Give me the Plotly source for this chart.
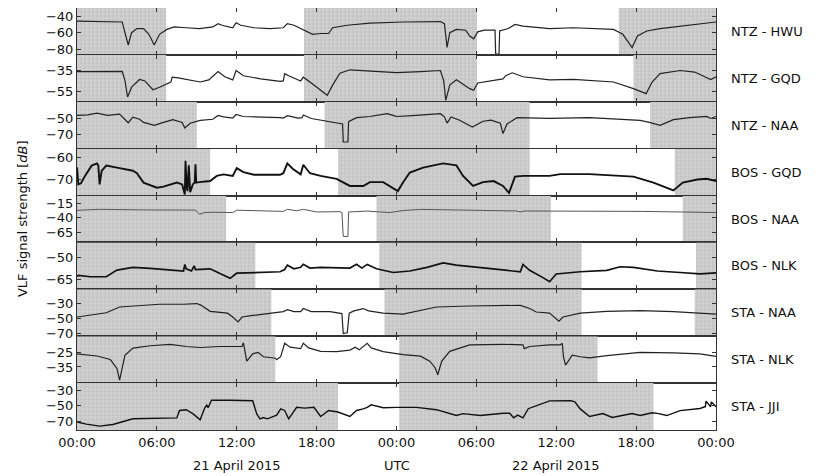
import pandas as pd
import plotly.graph_objects as go
from plotly.subplots import make_subplots

T0 = pd.Timestamp("2015-04-21 00:00")

stations = ["NTZ - HWU", "NTZ - GQD", "NTZ - NAA", "BOS - GQD", "BOS - NAA",
            "BOS - NLK", "STA - NAA", "STA - NLK", "STA - JJI"]

# hours since 2015-04-21 00:00 UTC and signal strength [dB]
ntz_hwu_h = [0, 1.5, 3.4, 3.6, 3.85, 4.1, 4.5, 5.0, 5.4, 5.8, 6.2, 6.75, 7.3, 8.2, 9.2, 10.2, 10.6, 10.9,
             11.7, 11.95, 12.3, 13.3, 14.5, 15.5, 15.8, 16.3, 17.0, 17.7, 18.3, 18.9, 19.2, 20.3, 22.0,
             24.5, 27.3, 27.6, 27.8, 28.0, 28.5, 29.2, 29.5, 29.8, 30.1, 30.6, 31.4, 31.45, 31.7, 31.75,
             32.4, 32.9, 33.5, 35.5, 37.3, 40.3, 41.0, 41.7, 42.1, 42.8, 43.8, 45.3, 48]
ntz_hwu_v = [-46, -46.5, -47, -60, -75, -60, -55, -55, -62, -75, -62, -56, -53, -54, -55, -53, -49, -51,
             -54, -48, -51, -54, -55, -54, -49, -51, -56, -62, -61, -61, -54, -51, -48.5,
             -47, -46.5, -49, -78, -60, -56, -57, -64, -67.5, -59, -57, -57, -86, -86, -58,
             -55, -50, -52, -55, -54, -56, -62, -78, -64, -58, -55, -52, -47]

ntz_gqd_h = [0, 3.4, 3.6, 3.8, 4.1, 4.7, 5.1, 5.7, 6.2, 7.05, 7.15, 7.6, 9.25, 9.9, 10.6, 11.1, 11.7, 11.95,
             12.5, 13.8, 15.25, 15.5, 15.6, 15.9, 16.8, 17.0, 17.6, 18.8, 19.2, 19.75, 20.5, 22.0, 24.0,
             25.8, 27.3, 27.55, 27.7, 28.0, 28.5, 29.5, 29.8, 30.1, 31.5, 32.0, 32.2, 32.7, 33.5, 35.5,
             37.3, 40.3, 41.8, 42.75, 43.2, 43.8, 45.3, 46.4, 47.0, 47.6, 48]
ntz_gqd_v = [-36, -35.9, -44.5, -60.4, -51, -43.6, -45, -53.4, -51, -46, -41.4, -42, -46, -44, -36, -41,
             -44, -35, -40, -43, -45.5, -45, -38, -40, -45, -41.4, -47, -58.8, -49, -37.6, -34.3, -35.5, -37,
             -36, -35, -45, -63.6, -49, -43.9, -52.4, -54, -47, -44.5, -43, -40, -37.2, -41, -43.9,
             -43.5, -46, -52.4, -57.2, -46, -38, -35, -36.5, -40, -43.6, -41]

ntz_naa_h = [0, 0.8, 1.5, 2.3, 3.2, 3.5, 3.85, 4.2, 4.7, 5.0, 5.8, 6.5, 7.2, 7.9, 8.1, 8.5, 9.25, 10.2,
             10.6, 11.0, 11.7, 11.95, 12.5, 15.25, 15.5, 15.8, 16.6, 16.9, 17.0, 17.6, 18.5, 19.75, 19.95,
             20.0, 20.35, 20.4, 21.0, 22.0, 23.3, 23.8, 24.0, 25.2, 27.3, 27.6, 27.8, 28.1, 28.7, 29.7, 30.5,
             31.1, 31.8, 32.0, 32.3, 33.05, 35.5, 38.5, 42.3, 43.0, 43.8, 44.8, 46.0, 47.3, 47.6, 48]
ntz_naa_v = [-46.2, -45.5, -43.4, -46, -44.5, -49, -55.4, -48.4, -51, -55, -58.75, -55, -51.5, -55, -62,
             -56, -52.5, -51, -46.2, -48, -49.5, -45, -47.5, -49, -49.5, -46.5, -49.5, -49, -45.6, -50,
             -52.5, -55.8, -57, -79.6, -79.6, -54, -49, -47.5, -44, -46.5, -47.5, -46.5, -44, -48, -55.8,
             -48, -52, -60.8, -53.5, -52, -56, -69, -57, -49, -50, -49, -52.5, -55, -58.75, -51.5, -49,
             -47.5, -50, -47.5]

bos_gqd_h = [0, 0.1, 0.3, 0.6, 1.1, 1.5, 1.6, 1.7, 1.85, 2.2, 3.2, 4.2, 4.5, 5.0, 6.0, 6.5, 7.5, 7.9, 8.1,
             8.15, 8.25, 8.3, 8.4, 8.5, 8.7, 8.85, 8.9, 8.95, 9.2, 10.0, 10.5, 11.0, 11.7, 12.0, 12.5,
             13.3, 15.25, 15.5, 15.8, 16.2, 16.8, 17.0, 17.5, 18.3, 19.5, 20.5, 21.5, 22.0, 23.0, 23.5,
             24.1, 24.5, 25.0, 26.0, 27.5, 28.5, 29.0, 29.75, 30.5, 31.3, 32.0, 32.45, 32.9, 33.5, 35.5,
             36.3, 38.5, 41.8, 43.3, 44.8, 45.5, 46.6, 47.3, 48]
bos_gqd_v = [-64.4, -72, -71.5, -68.2, -63.6, -62.6, -63.6, -72, -66, -63.6, -64.7, -65.9, -67, -71.2,
             -73.5, -73, -71.2, -72, -76.5, -61.4, -73.5, -75, -63.5, -75.5, -72, -71, -63, -71.2, -71,
             -70.5, -68.2, -67.5, -68.2, -64.7, -66.5, -67.7, -67.7, -67, -62.6, -65, -67.5, -63.2, -67,
             -68.2, -69.5, -72.7, -72.7, -71, -71, -72.7, -75, -71, -66.7, -64.5, -62.6, -63.5, -68.2,
             -72.7, -71, -70.5, -72.7, -75.8, -68.5, -68.2, -68.2, -67.4, -67.4, -68.5, -71.2, -74.7,
             -71.2, -69.8, -69.5, -70.5]

bos_naa_h = [0, 1.7, 5.0, 7.5, 8.9, 9.2, 9.6, 10.2, 11.7, 12.0, 13.3, 15.25, 15.5, 15.8, 16.5, 17.0, 18.0,
             19.75, 19.9, 20.0, 20.35, 20.4, 21.8, 22.8, 23.5, 24.5, 25.8, 29.5, 33.0, 33.3, 33.6, 35.5,
             38.5, 42.3, 45.3, 48]
bos_naa_v = [-27.2, -25.5, -26.5, -27, -26.8, -33.9, -31, -30.5, -31, -27, -28, -28.3, -29, -25.5, -28,
             -25.5, -30, -29.5, -31, -71.7, -72, -30, -28.5, -30, -31, -27.5, -25.6, -27, -28.3, -30,
             -28.3, -28.5, -28.3, -29, -30, -31]

bos_nlk_h = [0, 0.1, 1.0, 2.2, 3.0, 4.2, 5.5, 6.75, 8.0, 8.1, 8.2, 8.6, 8.8, 8.9, 10.0, 10.7, 11.5, 12.0,
             13.3, 15.25, 15.6, 15.8, 16.3, 16.8, 17.0, 17.5, 18.3, 19.5, 20.5, 21.0, 21.4, 21.8, 22.5,
             23.75, 25.0, 26.3, 27.5, 28.5, 30.0, 31.5, 32.5, 33.3, 33.5, 34.0, 35.0, 35.5, 36.0, 37.8,
             39.8, 40.8, 41.8, 43.6, 45.3, 46.8, 48]
bos_nlk_v = [-63, -62.5, -63.4, -63.4, -58.9, -57, -57.7, -58.4, -59.5, -55, -58, -59.5, -56, -58.5, -58,
             -61, -64.5, -61, -60.5, -60, -58.5, -55.5, -58, -57, -54.9, -57.5, -57, -57.5, -57.5, -54.9,
             -57.5, -55, -58, -60.5, -59.5, -57, -53.9, -55.5, -57, -58.5, -59.5, -60, -55, -59, -64,
             -66.8, -61.5, -60, -59, -56.6, -57, -59.5, -60.5, -61.5, -60.7]

sta_naa_h = [0, 1.2, 2.2, 3.2, 4.7, 6.2, 8.0, 9.0, 9.3, 10.0, 11.3, 11.7, 12.1, 12.4, 13.2, 15.25, 15.5,
             15.8, 16.3, 16.8, 17.0, 17.6, 19.0, 19.9, 20.0, 20.3, 20.45, 20.8, 21.5, 21.9, 23.0, 24.5,
             25.5, 27.0, 29.5, 32.0, 33.3, 34.0, 34.5, 35.5, 36.2, 36.5, 37.8, 39.8, 42.3, 44.8, 48]
sta_naa_v = [-48, -44.5, -42.5, -35, -33, -31.4, -31.4, -30.5, -32.5, -40.6, -43, -48, -54.4, -48, -46,
             -42.4, -41, -38.5, -41, -41, -37, -41, -41, -43.5, -69.6, -68.5, -43, -40, -37, -40, -43,
             -44.3, -40.6, -35, -33.7, -32.8, -32.8, -37, -41.5, -43, -53.5, -48, -43, -40.6, -39.7,
             -41, -44.3]

sta_nlk_h = [0, 1.5, 2.5, 3.0, 3.2, 3.4, 3.6, 4.2, 5.5, 7.0, 8.2, 9.25, 10.7, 12.4, 12.5, 12.75, 13.2,
             13.6, 14.0, 14.9, 15.0, 15.3, 15.6, 16.0, 16.8, 17.0, 17.4, 18.3, 19.5, 20.5, 20.9, 21.2,
             21.8, 22.1, 23.0, 24.5, 25.8, 26.5, 26.9, 27.1, 27.4, 28.0, 29.5, 32.0, 33.5, 33.6, 34.0,
             35.5, 36.3, 36.45, 36.55, 36.7, 37.2, 37.8, 38.5, 39.8, 42.3, 44.8, 46.8, 48]
sta_nlk_v = [-26.1, -27.5, -29.9, -36, -43.9, -35, -27, -22.1, -20.5, -19.5, -21, -21.7, -21, -21, -18.5,
             -31, -26, -25, -28, -29, -30, -28, -18.8, -21.5, -22.5, -18.8, -22, -24.3, -24.5, -23.5,
             -21.5, -23.3, -18.8, -22, -24.5, -26.6, -27.6, -31, -35.5, -40.3, -31, -24.3, -19.9, -19.5,
             -19.9, -22.5, -21, -19.9, -19.9, -18.8, -28.5, -33.7, -27, -28, -28.8, -27.2, -25, -25.4,
             -26, -27.7]

sta_jji_h = [0, 0.7, 1.7, 2.7, 4.2, 5.5, 6.75, 7.5, 7.7, 8.2, 8.7, 9.25, 9.6, 9.75, 9.85, 10.1, 11.5,
             13.2, 13.5, 13.75, 14.0, 14.3, 15.0, 15.3, 15.6, 15.9, 16.5, 17.1, 17.8, 18.3, 18.9, 19.6,
             20.5, 21.0, 21.5, 21.8, 22.1, 23.0, 24.0, 25.5, 27.0, 27.8, 28.5, 29.0, 29.75, 30.3, 32.0,
             32.5, 32.8, 33.1, 33.5, 33.9, 35.5, 36.8, 37.1, 37.4, 37.8, 38.5, 39.5, 40.2, 41.7, 42.3,
             43.2, 43.7, 44.3, 45.3, 46.8, 47.15, 47.2, 47.25, 47.55, 47.6, 47.65, 48]
sta_jji_v = [-70.8, -73.5, -76, -74, -66.7, -66, -65, -65.5, -56, -55, -60, -67.9, -52.5, -49, -52.5,
             -42.9, -42.9, -43.5, -60.4, -66.7, -65, -66.7, -62, -54, -56, -66.7, -52, -53, -52, -63.75,
             -56, -58, -63.75, -56, -54, -52, -48.75, -52.5, -52, -52, -55, -58.75, -62.5, -60, -61,
             -62.5, -59.5, -59.5, -65.4, -62, -65.4, -53.75, -43.75, -43, -43.5, -45, -54, -63.75, -60,
             -65, -60, -62.5, -59, -60, -62.5, -56.25, -53.5, -51.25, -51.25, -44, -51.25, -51.25, -45,
             -51.25, -51.25]

hours = [ntz_hwu_h, ntz_gqd_h, ntz_naa_h, bos_gqd_h, bos_naa_h, bos_nlk_h, sta_naa_h, sta_nlk_h, sta_jji_h]
values = [ntz_hwu_v, ntz_gqd_v, ntz_naa_v, bos_gqd_v, bos_naa_v, bos_nlk_v, sta_naa_v, sta_nlk_v, sta_jji_v]

# night-time intervals (hours) per path
nights = [
    [(0, 6.7), (17.05, 30.05), (40.7, 48)],
    [(0, 6.7), (17.05, 30.05), (41.8, 48)],
    [(0, 9.0), (18.6, 34.0), (43.05, 48)],
    [(0, 10.0), (19.6, 34.0), (44.9, 48)],
    [(0, 11.2), (22.5, 35.6), (45.5, 48)],
    [(0, 13.4), (22.7, 37.9), (46.5, 48)],
    [(0, 14.6), (23.1, 37.9), (46.4, 48)],
    [(0, 14.9), (24.2, 39.1)],
    [(0, 19.6), (24.2, 43.3)],
]

y_ranges = [(-87, -30), (-65, -20), (-88, -29), (-77, -56), (-82, -2), (-72, -40), (-73, -12), (-46, -14), (-81, -21)]
y_ticks = [[-40, -60, -80], [-35, -55], [-50, -70], [-60, -70], [-15, -40, -65], [-50, -65],
           [-30, -50, -70], [-25, -35], [-30, -50, -70]]
line_widths = [1.2, 1.2, 1.2, 1.9, 1.0, 1.7, 1.2, 1.2, 1.4]
line_colors = ["#222", "#222", "#222", "#111", "#555", "#111", "#222", "#222", "#111"]

x_ticks_h = [0, 6, 12, 18, 24, 30, 36, 42, 48]
date_labels = [(12, "21 April 2015"), (24, "UTC"), (36, "22 April 2015")]


def ts(h):
    return T0 + pd.to_timedelta(h, unit="h")


n = len(stations)
fig = make_subplots(rows=n, cols=1, shared_xaxes=True, vertical_spacing=0)

for i in range(n):
    r = i + 1
    lo, hi = y_ranges[i]
    for (a, b) in nights[i]:
        fig.add_trace(go.Scatter(
            x=[ts(a), ts(a), ts(b), ts(b), ts(a)], y=[lo, hi, hi, lo, lo],
            mode="lines", line=dict(width=0), fill="toself",
            fillcolor="#c8c8c8",
            fillpattern=dict(shape="+", fgcolor="#eaeaea", bgcolor="#c4c4c4", size=4, solidity=0.35),
            hoverinfo="skip", showlegend=False), row=r, col=1)
    fig.add_trace(go.Scatter(
        x=[ts(h) for h in hours[i]], y=values[i], mode="lines",
        line=dict(color=line_colors[i], width=line_widths[i]), showlegend=False), row=r, col=1)
    fig.update_yaxes(range=[lo, hi], tickvals=y_ticks[i], ticktext=["\u2212%d" % abs(t) for t in y_ticks[i]],
                     row=r, col=1)
    fig.add_annotation(xref="paper", x=1.02, yref="y%s domain" % ("" if r == 1 else r), y=0.5,
                       text=stations[i], showarrow=False, xanchor="left", yanchor="middle",
                       font=dict(size=13, color="#111"))

fig.update_xaxes(range=[ts(0), ts(48)], tickvals=[ts(h) for h in x_ticks_h], tickformat="%H:%M",
                 ticks="inside", ticklen=4, tickcolor="#333", mirror="ticks", showline=True,
                 linecolor="#333", linewidth=1, showgrid=False, zeroline=False)
fig.update_xaxes(showticklabels=True, tickfont=dict(size=13, color="#111"), row=n, col=1)
fig.update_yaxes(ticks="inside", ticklen=4, tickcolor="#333", mirror="ticks", showline=True,
                 linecolor="#333", linewidth=1, showgrid=False, zeroline=False,
                 tickfont=dict(size=13, color="#111"))

for h, txt in date_labels:
    fig.add_annotation(x=ts(h), xref="x%d" % n, yref="paper", y=-0.083, yanchor="middle",
                       text=txt, showarrow=False, font=dict(size=13, color="#111"))

fig.add_annotation(xref="paper", x=-0.086, xanchor="center", yref="paper", y=0.5,
                   text="VLF signal strength [<i>dB</i>]", textangle=-90, showarrow=False,
                   font=dict(size=13, color="#111"))

# the page places the figure 8px in from the top-left corner
fig.update_layout(width=818, height=468, margin=dict(l=69, r=110, t=0, b=46),
                  plot_bgcolor="white", paper_bgcolor="white",
                  font=dict(family="DejaVu Sans", size=13, color="#111"))

fig.write_html("out.html")
